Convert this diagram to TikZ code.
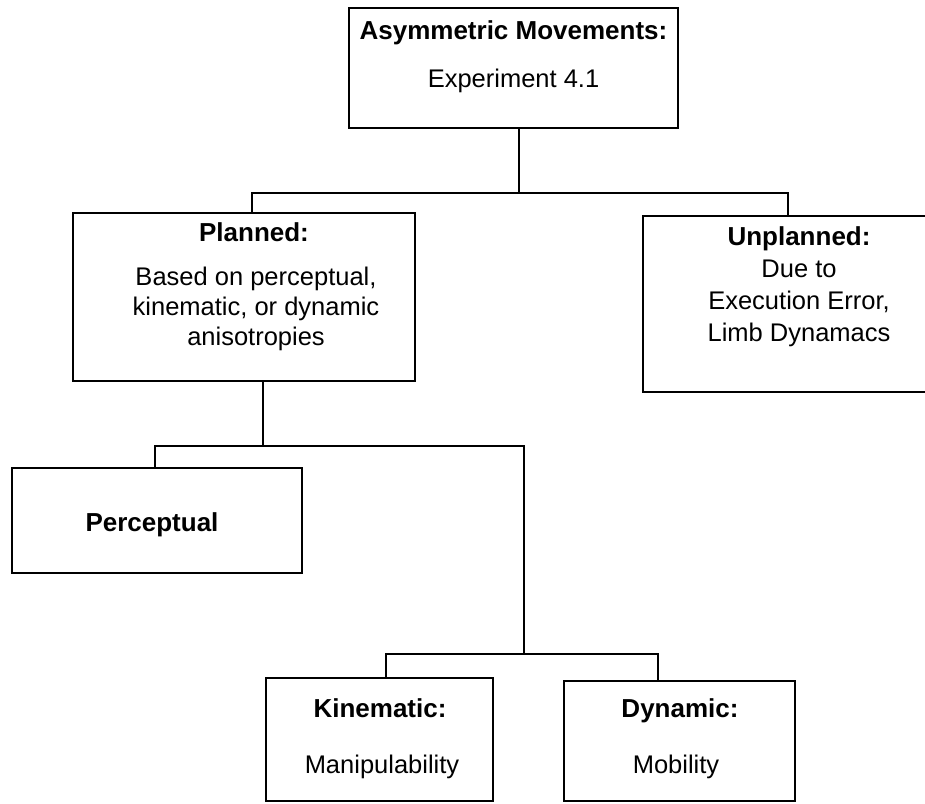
\documentclass[tikz,border=0pt]{standalone}
\usepackage{fontspec}
\setmainfont{Liberation Sans}
\begin{document}
\begin{tikzpicture}[x=1pt,y=-1pt,
  box/.style={draw, line width=1.5pt, rectangle, inner sep=0pt},
  lbl/.style={anchor=base, inner sep=0pt, font=\fontsize{25.5}{30}\selectfont},
  ttl/.style={anchor=base, inner sep=0pt, font=\fontsize{26}{30}\selectfont\bfseries},
  wire/.style={line width=1.5pt}]
\useasboundingbox (0,0) rectangle (925,803);
\clip (0,0) rectangle (925,803);
\fill[white] (0,0) rectangle (925,803);

% boxes
\node[box, minimum width=329pt, minimum height=120pt] (top) at (513.5,68) {};
\node[box, minimum width=342pt, minimum height=168pt] (planned) at (244,297) {};
\node[box, minimum width=312pt, minimum height=176pt] (unplanned) at (799,304) {};
\node[box, minimum width=290pt, minimum height=105pt] (percep) at (157,520.5) {};
\node[box, minimum width=227pt, minimum height=123pt] (kin) at (379.5,739.5) {};
\node[box, minimum width=231pt, minimum height=120pt] (dyn) at (679.5,741) {};

% labels
\node[ttl] (topA) at (513.5,39) {Asymmetric Movements:};
\node[lbl] (topB) at (513.5,87) {Experiment 4.1};

\node[ttl] (plA) at (254,241) {Planned:};
\node[lbl] (plB) at (256,285) {Based on perceptual,};
\node[lbl] (plC) at (256,315) {kinematic, or dynamic};
\node[lbl] (plD) at (256,345) {anisotropies};

\node[ttl] (unA) at (799,245) {Unplanned:};
\node[lbl] (unB) at (799,277) {Due to};
\node[lbl] (unC) at (799,309) {Execution Error,};
\node[lbl] (unD) at (799,341) {Limb Dynamacs};

\node[ttl] (peA) at (152,531) {Perceptual};

\node[ttl] (kiA) at (380,717) {Kinematic:};
\node[lbl] (kiB) at (382,773) {Manipulability};

\node[ttl] (dyA) at (680,717) {Dynamic:};
\node[lbl] (dyB) at (676,773) {Mobility};

% connectors
\coordinate (busA) at (519,193);
\coordinate (busAl) at (252,193);
\coordinate (busAr) at (788,193);
\draw[wire] (top.south -| busA) -- (busA);
\draw[wire] (planned.north -| busAl) -- (busAl) -- (busAr) -- (unplanned.north -| busAr);

\coordinate (busB) at (263,446);
\coordinate (busBl) at (155,446);
\coordinate (busBr) at (524,446);
\coordinate (busC) at (524,654);
\coordinate (busCl) at (386,654);
\coordinate (busCr) at (658,654);
\draw[wire] (planned.south -| busB) -- (busB);
\draw[wire] (percep.north -| busBl) -- (busBl) -- (busBr) -- (busC);
\draw[wire] (kin.north -| busCl) -- (busCl) -- (busCr) -- (dyn.north -| busCr);
\end{tikzpicture}
\end{document}
